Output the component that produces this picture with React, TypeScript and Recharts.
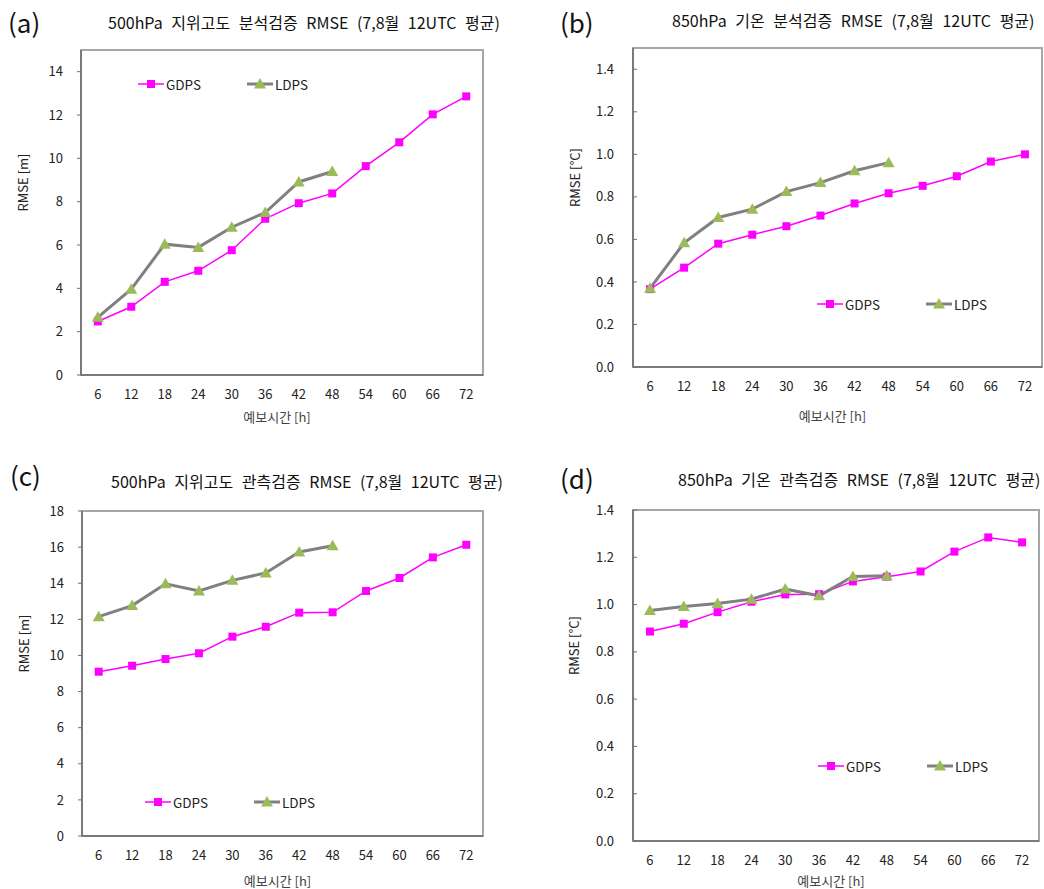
import React from 'react';
import { LineChart, Line, XAxis, YAxis, ReferenceArea, Legend } from 'recharts';

// ---- data ----
const hours = [6, 12, 18, 24, 30, 36, 42, 48, 54, 60, 66, 72];
const hourBoundaries = [3, 9, 15, 21, 27, 33, 39, 45, 51, 57, 63, 69, 75];

const gdpsA = [2.47, 3.15, 4.3, 4.81, 5.76, 7.21, 7.93, 8.38, 9.64, 10.74, 12.03, 12.86];
const ldpsA = [2.66, 3.96, 6.04, 5.89, 6.82, 7.5, 8.91, 9.39];

const gdpsB = [0.366, 0.467, 0.58, 0.622, 0.662, 0.712, 0.769, 0.817, 0.852, 0.897, 0.966, 1.0];
const ldpsB = [0.37, 0.584, 0.703, 0.742, 0.825, 0.867, 0.923, 0.961];

const gdpsC = [9.1, 9.43, 9.8, 10.12, 11.04, 11.59, 12.37, 12.39, 13.57, 14.29, 15.43, 16.13];
const ldpsC = [12.15, 12.76, 13.97, 13.57, 14.16, 14.57, 15.73, 16.08];

const gdpsD = [0.886, 0.919, 0.968, 1.012, 1.043, 1.044, 1.098, 1.118, 1.14, 1.224, 1.284, 1.263];
const ldpsD = [0.975, 0.992, 1.005, 1.023, 1.066, 1.037, 1.119, 1.122];

const ticksA = [0, 2, 4, 6, 8, 10, 12, 14];
const ticksB = [0, 0.2, 0.4, 0.6, 0.8, 1.0, 1.2, 1.4];
const ticksC = [0, 2, 4, 6, 8, 10, 12, 14, 16, 18];
const ticksD = [0, 0.2, 0.4, 0.6, 0.8, 1.0, 1.2, 1.4];

const titleA = '500hPa 지위고도 분석검증 RMSE (7,8월 12UTC 평균)';
const titleB = '850hPa 기온 분석검증 RMSE (7,8월 12UTC 평균)';
const titleC = '500hPa 지위고도 관측검증 RMSE (7,8월 12UTC 평균)';
const titleD = '850hPa 기온 관측검증 RMSE (7,8월 12UTC 평균)';

const xTitle = '예보시간 [h]';
const seriesNames = ['GDPS', 'LDPS'];

const FONT = "'Noto Sans CJK KR', 'Noto Sans', sans-serif";
const MAGENTA = '#ff00ff';
const GRAY = '#808080';
const GREEN = '#9bbb59';

const buildRows = (g: number[], l: number[]) =>
  hours.map((h, i) => ({ h, GDPS: g[i], LDPS: l[i] }));

const SquareDot = (props: any) => {
  const { cx, cy, index } = props;
  if (cx == null || cy == null) return <g key={`s${index}`} />;
  return <rect key={`s${index}`} x={cx - 4} y={cy - 4} width={8} height={8} fill={MAGENTA} />;
};

const TriDot = (props: any) => {
  const { cx, cy, index } = props;
  if (cx == null || cy == null) return <g key={`t${index}`} />;
  return (
    <polygon
      key={`t${index}`}
      points={`${cx},${cy - 6} ${cx + 6},${cy + 4.5} ${cx - 6},${cy + 4.5}`}
      fill={GREEN}
    />
  );
};

const LegendContent = (props: any) => {
  const payload = props.payload || [];
  return (
    <div style={{ display: 'flex', fontFamily: FONT, fontSize: 13.5, color: '#222' }}>
      {payload.map((p: any) => {
        const isG = p.value === 'GDPS';
        return (
          <div key={p.value} style={{ width: 109, display: 'flex', alignItems: 'center', height: 16 }}>
            <svg width={26} height={14} style={{ marginRight: 2 }}>
              <line x1={0} y1={7} x2={26} y2={7} stroke={isG ? MAGENTA : GRAY} strokeWidth={isG ? 1.5 : 3} />
              {isG ? (
                <rect x={9} y={3} width={8} height={8} fill={MAGENTA} />
              ) : (
                <polygon points="13,1 19,11.5 7,11.5" fill={GREEN} />
              )}
            </svg>
            <span>{p.value}</span>
          </div>
        );
      })}
    </div>
  );
};

type PanelProps = {
  left: number;
  top: number;
  width: number;
  height: number;
  plot: { top: number; right: number; bottom: number; left: number };
  yDomain: [number, number];
  yTicks: number[];
  decimals: number;
  yTitle: string;
  yTitleX: number;
  xTitleDy: number;
  tickInside: boolean;
  gdps: number[];
  ldps: number[];
  legendLeft: number;
  legendTop: number;
  letter: string;
  letterLeft: number;
  letterTop: number;
  title: string;
  titleLeft: number;
  titleTop: number;
};

const Panel = (p: PanelProps) => {
  const rows = buildRows(p.gdps, p.ldps);
  const xAxisH = 30;
  const margin = {
    top: p.plot.top,
    right: p.plot.right,
    left: 0,
    bottom: p.plot.bottom - xAxisH - 1,
  };
  const plotH = p.height - p.plot.top - p.plot.bottom;
  const yTickSize = p.tickInside ? -4 : 4;
  const yTickMargin = p.tickInside ? 23 : 14;
  return (
    <div style={{ position: 'absolute', left: p.left, top: p.top, width: p.width, height: p.height }}>
      <div
        style={{
          position: 'absolute',
          left: p.letterLeft,
          top: p.letterTop,
          fontFamily: FONT,
          fontSize: 26,
          lineHeight: '30px',
          color: '#111',
          whiteSpace: 'nowrap',
        }}
      >
        {p.letter}
      </div>
      <div
        style={{
          position: 'absolute',
          left: p.titleLeft,
          top: p.titleTop,
          fontFamily: FONT,
          fontSize: 16,
          wordSpacing: 5,
          lineHeight: '20px',
          color: '#111',
          whiteSpace: 'nowrap',
        }}
      >
        {p.title}
      </div>
      <LineChart width={p.width} height={p.height} data={rows} margin={margin}>
        <ReferenceArea
          xAxisId="lab"
          x1={3}
          x2={75}
          y1={p.yDomain[0]}
          y2={p.yDomain[1]}
          fill="none"
          stroke="#a6a6a6"
          strokeWidth={2}
          fillOpacity={0}
        />
        <XAxis
          xAxisId="grid"
          dataKey="h"
          type="number"
          domain={[3, 75]}
          ticks={hourBoundaries}
          height={1}
          tick={false}
          tickSize={-4}
          tickLine={{ stroke: '#707070', strokeWidth: 1 }}
          axisLine={{ stroke: '#7a7a7a', strokeWidth: 2 }}
          allowDataOverflow
        />
        <XAxis
          xAxisId="lab"
          dataKey="h"
          type="number"
          domain={[3, 75]}
          ticks={hours}
          height={xAxisH}
          tickLine={false}
          axisLine={false}
          tickSize={0}
          tickMargin={14}
          interval={0}
          tick={{ fontFamily: FONT, fontSize: 13, fill: '#222' }}
          label={{
            content: (lp: any) => {
              const vb = lp.viewBox || {};
              return (
                <text
                  x={vb.x + vb.width / 2 - 5}
                  y={vb.y - 1 + p.xTitleDy}
                  textAnchor="middle"
                  dominantBaseline="central"
                  fontFamily={FONT}
                  fontSize={13}
                  fill="#444"
                >
                  {xTitle}
                </text>
              );
            },
          }}
        />
        <YAxis
          type="number"
          domain={p.yDomain}
          ticks={p.yTicks}
          interval={0}
          width={p.plot.left}
          tickSize={yTickSize}
          tickMargin={yTickMargin}
          tickLine={{ stroke: '#707070', strokeWidth: 1 }}
          axisLine={{ stroke: '#7a7a7a', strokeWidth: 2 }}
          tick={{ fontFamily: FONT, fontSize: 13, fill: '#222' }}
          tickFormatter={(v: number) => v.toFixed(p.decimals)}
          label={{
            content: () => {
              const cy = p.plot.top + plotH / 2 - 30;
              return (
                <text
                  x={p.yTitleX}
                  y={cy}
                  transform={`rotate(-90, ${p.yTitleX}, ${cy})`}
                  textAnchor="middle"
                  dominantBaseline="central"
                  fontFamily={FONT}
                  fontSize={13}
                  fill="#222"
                >
                  {p.yTitle}
                </text>
              );
            },
          }}
        />
        <Legend
          layout="horizontal"
          verticalAlign="middle"
          align="center"
          content={<LegendContent />}
          wrapperStyle={{ position: 'absolute', left: p.legendLeft, top: p.legendTop, width: 230, height: 16 }}
        />
        <Line
          xAxisId="lab"
          dataKey={seriesNames[0]}
          name={seriesNames[0]}
          stroke={MAGENTA}
          strokeWidth={1.5}
          dot={SquareDot}
          activeDot={false}
          isAnimationActive={false}
        />
        <Line
          xAxisId="lab"
          dataKey={seriesNames[1]}
          name={seriesNames[1]}
          stroke={GRAY}
          strokeWidth={3}
          dot={TriDot}
          activeDot={false}
          isAnimationActive={false}
        />
      </LineChart>
    </div>
  );
};

export default function App() {
  return (
    <div style={{ position: 'absolute', left: 0, top: 0, width: 1044, height: 889, background: '#fff' }}>
      <Panel
        left={0}
        top={0}
        width={522}
        height={445}
        plot={{ top: 50, right: 39, bottom: 70, left: 81 }}
        yDomain={[0, 15]}
        yTicks={ticksA}
        decimals={0}
        yTitle="RMSE [m]"
        yTitleX={22}
        xTitleDy={41}
        tickInside={false}
        gdps={gdpsA}
        ldps={ldpsA}
        legendLeft={138}
        legendTop={76}
        letter="(a)"
        letterLeft={8}
        letterTop={7}
        title={titleA}
        titleLeft={108}
        titleTop={12}
      />
      <Panel
        left={522}
        top={0}
        width={522}
        height={445}
        plot={{ top: 48, right: 2, bottom: 78, left: 111 }}
        yDomain={[0, 1.5]}
        yTicks={ticksB}
        decimals={1}
        yTitle="RMSE [°C]"
        yTitleX={52}
        xTitleDy={48}
        tickInside={true}
        gdps={gdpsB}
        ldps={ldpsB}
        legendLeft={295}
        legendTop={296}
        letter="(b)"
        letterLeft={38}
        letterTop={7}
        title={titleB}
        titleLeft={150}
        titleTop={10}
      />
      <Panel
        left={0}
        top={445}
        width={522}
        height={444}
        plot={{ top: 66, right: 39, bottom: 53, left: 82 }}
        yDomain={[0, 18]}
        yTicks={ticksC}
        decimals={0}
        yTitle="RMSE [m]"
        yTitleX={23}
        xTitleDy={44}
        tickInside={false}
        gdps={gdpsC}
        ldps={ldpsC}
        legendLeft={145}
        legendTop={349}
        letter="(c)"
        letterLeft={10}
        letterTop={15}
        title={titleC}
        titleLeft={111}
        titleTop={26}
      />
      <Panel
        left={522}
        top={445}
        width={522}
        height={444}
        plot={{ top: 65, right: 5, bottom: 48, left: 111 }}
        yDomain={[0, 1.4]}
        yTicks={ticksD}
        decimals={1}
        yTitle="RMSE [°C]"
        yTitleX={51}
        xTitleDy={39}
        tickInside={true}
        gdps={gdpsD}
        ldps={ldpsD}
        legendLeft={296}
        legendTop={313}
        letter="(d)"
        letterLeft={38}
        letterTop={18}
        title={titleD}
        titleLeft={156}
        titleTop={24}
      />
    </div>
  );
}
